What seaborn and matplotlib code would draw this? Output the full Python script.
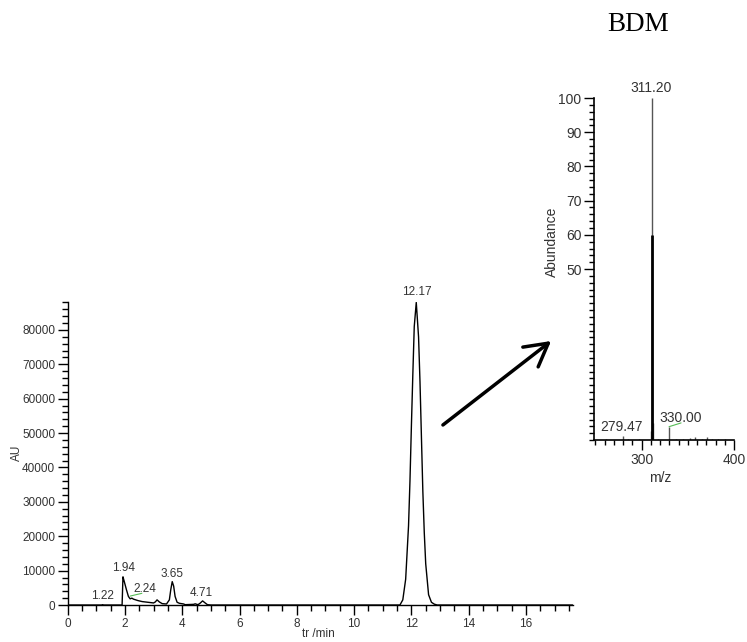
import matplotlib
matplotlib.use("Agg")
import matplotlib.pyplot as plt
from matplotlib.ticker import MultipleLocator, FixedLocator
import numpy as np
import pandas as pd
import seaborn as sns

sns.set_theme(style="white")
plt.rcParams["font.family"] = ["Liberation Sans", "DejaVu Sans"]

# Chromatogram trace (retention time in min, detector response in AU)
time_min = [0.00, 1.18, 1.22, 1.26, 1.90, 1.93, 1.97, 2.05, 2.12, 2.18, 2.24, 2.30,
            2.45, 2.60, 2.80, 3.00, 3.06, 3.12, 3.20, 3.30, 3.45, 3.55, 3.60, 3.65,
            3.70, 3.75, 3.82, 3.90, 4.05, 4.10, 4.40, 4.45, 4.55, 4.62, 4.71, 4.80,
            4.88, 5.00, 11.60, 11.70, 11.80, 11.90, 11.95, 12.00, 12.05, 12.10,
            12.17, 12.25, 12.30, 12.35, 12.40, 12.45, 12.50, 12.60, 12.70, 12.80,
            12.90, 17.63]
response_au = [0, 0, 90, 0, 0, 8200, 7000, 4500, 2500, 1800, 2000, 1700,
               1300, 1000, 800, 600, 900, 1500, 900, 400, 300, 1500, 4500, 6800,
               5500, 2500, 800, 500, 300, 100, 200, 350, 100, 500, 1200, 600,
               100, 0, 0, 1500, 7500, 23000, 36000, 52000, 67000, 81000,
               88000, 78000, 65000, 49000, 33000, 21000, 12000, 3000, 800, 250,
               0, 0]

# Labelled retention times
peak_labels = ["1.22", "1.94", "2.24", "3.65", "4.71", "12.17"]
label_time = [1.23, 1.94, 2.68, 3.63, 4.66, 12.18]
label_au = [2700, 10900, 4600, 9000, 3600, 91000]

# Mass spectrum of the main peak (m/z, relative abundance)
ms_mz = [262.0, 279.47, 285.0, 297.0, 309.8, 311.2, 312.3, 318.0, 330.0, 337.0,
         345.0, 352.0, 358.0, 365.0, 371.0, 376.0, 383.0, 390.0]
ms_abundance = [0.3, 1.2, 0.3, 0.3, 2.6, 100.0, 5.0, 0.4, 3.9, 0.4,
                0.4, 0.5, 0.8, 0.4, 0.8, 0.4, 0.4, 0.3]
# Second (averaged) scan overlaid on the base peak
scan2_mz = [311.2]
scan2_abundance = [60.0]

ms_labels = ["311.20", "279.47", "330.00"]
ms_label_mz = [310.8, 278.5, 342.4]
ms_label_abund = [103.0, 3.9, 6.4]

TXT = "#333333"

fig = plt.figure(figsize=(7.47, 6.42), dpi=100)
fig.patch.set_facecolor("white")

# ---- chromatogram ----
ax = fig.add_axes([0.0906, 0.0576, 0.676, 0.4724])
chrom = pd.DataFrame({"t": time_min, "au": response_au})
sns.lineplot(data=chrom, x="t", y="au", ax=ax, color="black", linewidth=1.0,
             sort=False, estimator=None)
ax.set_xlim(0, 17.63)
ax.set_ylim(0, 88200)
ax.set_xlabel("")
ax.set_ylabel("")
for s in ["top", "right"]:
    ax.spines[s].set_visible(False)
for s in ["left", "bottom"]:
    ax.spines[s].set_color("black")
    ax.spines[s].set_linewidth(1.0)
ax.xaxis.set_major_locator(MultipleLocator(2))
ax.xaxis.set_minor_locator(MultipleLocator(0.5))
ax.yaxis.set_major_locator(FixedLocator(np.arange(0, 80001, 10000)))
ax.yaxis.set_minor_locator(MultipleLocator(2000))
ax.tick_params(axis="both", which="major", direction="out", length=7, width=1,
               color="black", labelsize=8.5, labelcolor=TXT, pad=2,
               bottom=True, left=True)
ax.tick_params(axis="both", which="minor", direction="out", length=4, width=1,
               color="black", bottom=True, left=True)
ax.grid(False)
ax.set_facecolor("white")

for lab, tx, ty in zip(peak_labels, label_time, label_au):
    ax.text(tx, ty, lab, ha="center", va="center", fontsize=8.5, color=TXT,
            clip_on=False)
ax.plot([2.18, 2.59], [2600, 3400], color="#55bb55", lw=0.8)

fig.text(0.0228, 0.2944, "AU", rotation=90, ha="center", va="center",
         fontsize=8.5, color=TXT)
fig.text(0.4257, 0.0125, "tr /min", ha="center", va="center",
         fontsize=8.5, color=TXT)

# ---- mass spectrum ----
ax2 = fig.add_axes([0.7952, 0.3146, 0.1874, 0.5327])
ax2.vlines(ms_mz, 0, ms_abundance, colors="#555555", linewidth=1.0)
ax2.vlines(scan2_mz, 0, scan2_abundance, colors="black", linewidth=2.0)
ax2.set_xlim(248.5, 400)
ax2.set_ylim(0, 100)
for s in ["top", "right"]:
    ax2.spines[s].set_visible(False)
for s in ["left", "bottom"]:
    ax2.spines[s].set_color("black")
    ax2.spines[s].set_linewidth(1.2)
ax2.xaxis.set_major_locator(FixedLocator([300, 400]))
ax2.xaxis.set_minor_locator(MultipleLocator(10))
ax2.yaxis.set_major_locator(FixedLocator([50, 60, 70, 80, 90, 100]))
ax2.yaxis.set_minor_locator(MultipleLocator(2))
ax2.tick_params(axis="both", which="major", direction="out", length=7, width=1,
                color="black", labelsize=10, labelcolor=TXT, pad=2,
                bottom=True, left=True)
ax2.tick_params(axis="both", which="minor", direction="out", length=3.5, width=1,
                color="black", bottom=True, left=True)
ax2.grid(False)
ax2.set_facecolor("white")

for lab, mx, my in zip(ms_labels, ms_label_mz, ms_label_abund):
    ax2.text(mx, my, lab, ha="center", va="center", fontsize=10, color=TXT,
             clip_on=False)
ax2.plot([329.7, 342.7], [3.9, 5.0], color="#55bb55", lw=0.8)

fig.text(0.739, 0.623, "Abundance", rotation=90, ha="center", va="center",
         fontsize=10, color=TXT)
fig.text(0.8835, 0.2555, "m/z", ha="center", va="center", fontsize=10,
         color=TXT)

# ---- arrow and title ----
fig.patches.append(matplotlib.patches.FancyArrowPatch(
    (0.590, 0.3354), (0.7407, 0.4715), transform=fig.transFigure,
    arrowstyle="->,head_length=0.9,head_width=0.5", color="black",
    linewidth=2.5, mutation_scale=18))

fig.text(0.8547, 0.9626, "BDM", ha="center", va="center", fontsize=19.5,
         family=["Liberation Serif", "DejaVu Serif"], color="black")

fig.savefig("out.png", dpi=100, facecolor="white")
